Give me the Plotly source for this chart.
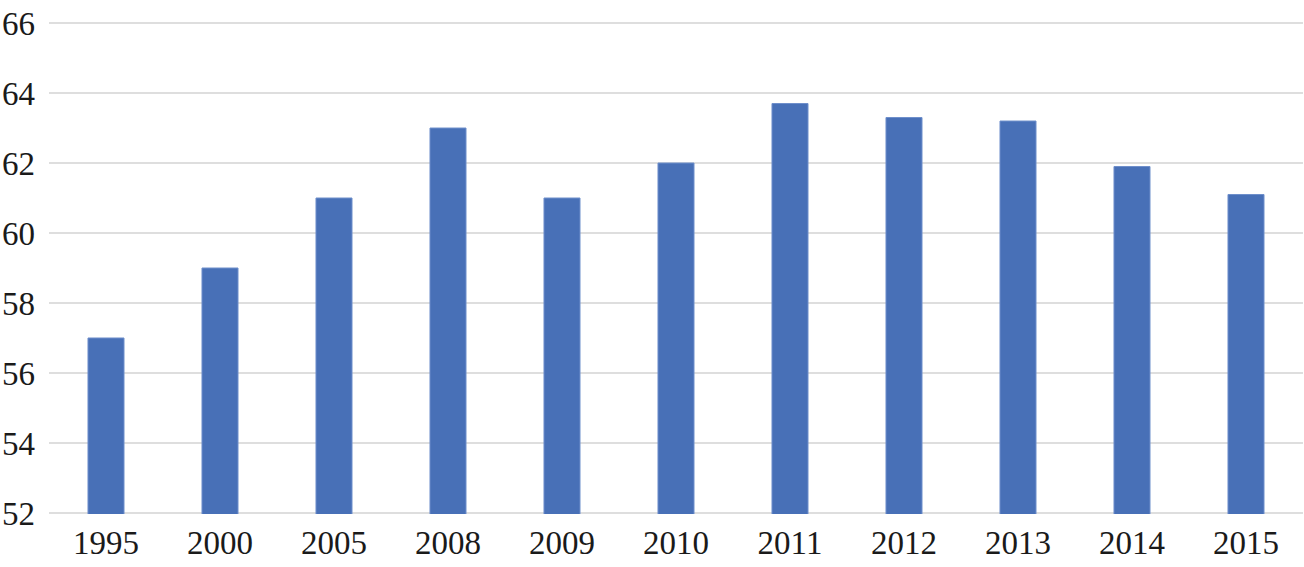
import plotly.graph_objects as go

years = ["1995", "2000", "2005", "2008", "2009", "2010", "2011", "2012", "2013", "2014", "2015"]
values = [57, 59, 61, 63, 61, 62, 63.7, 63.3, 63.2, 61.9, 61.1]
y_ticks = [52, 54, 56, 58, 60, 62, 64, 66]

fig = go.Figure(
    go.Bar(
        x=years,
        y=values,
        marker=dict(color="#4870B7", line=dict(color="#6E8FCB", width=1)),
        width=0.316,
    )
)

fig.update_layout(
    width=1304,
    height=567,
    margin=dict(l=49, r=1, t=22, b=53),
    paper_bgcolor="white",
    plot_bgcolor="white",
    showlegend=False,
    font=dict(family="Liberation Serif, serif", size=33, color="#1a1a1a"),
    bargap=0.684,
)
fig.update_xaxes(
    type="category",
    showgrid=False,
    showline=False,
    ticks="",
    ticklabelstandoff=6,
    automargin=False,
)
fig.update_yaxes(
    range=[51.97, 66.03],
    tickvals=y_ticks,
    ticktext=[str(v) for v in y_ticks],
    showgrid=True,
    gridcolor="#DEDEDE",
    gridwidth=2,
    zeroline=False,
    showline=False,
    ticks="",
    ticklabelstandoff=13,
    automargin=False,
)

fig.write_html(
    "out.html",
    config={"displayModeBar": False},
    post_script="document.body.style.margin='0';document.body.style.overflow='hidden';",
)
